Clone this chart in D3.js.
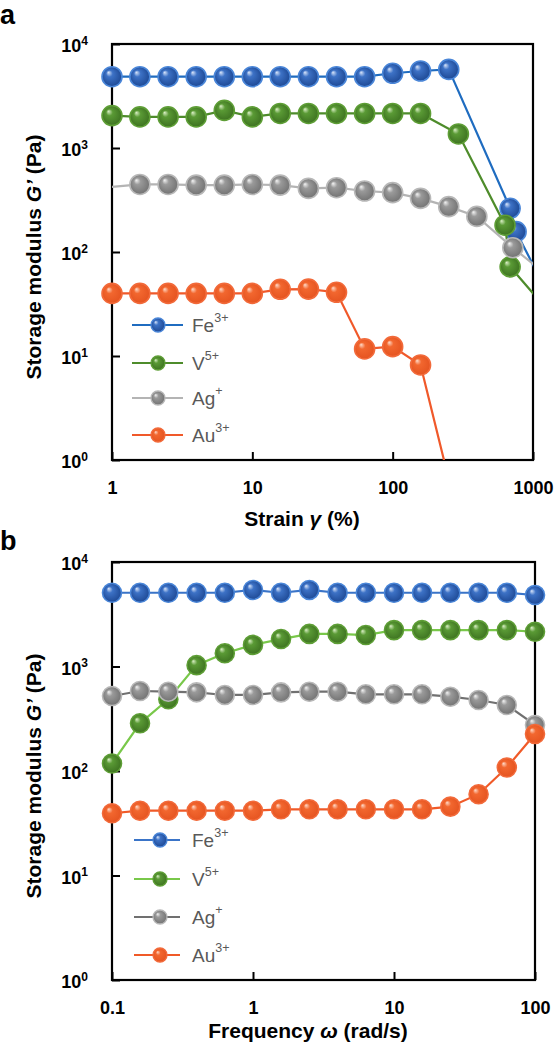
<!DOCTYPE html>
<html><head><meta charset="utf-8">
<script src="https://cdn.jsdelivr.net/npm/d3@7"></script>
<style>
body{margin:0;background:#fff}
svg{display:block}
text{font-family:Arial,"Liberation Sans",sans-serif}
</style>
</head><body>
<svg id="c" width="559" height="1050"></svg>
<script>
// ---------- DATA ----------
const seriesKeys = ["Fe","V","Ag","Au"];
const seriesCharges = ["3+","5+","+","3+"];

// Panel a: strain sweep (strain %, G' Pa)
const strainFeX = [1,1.58,2.51,3.98,6.31,10,15.8,25.1,39.8,63.1,100,158,251,687,758,1260];
const strainFeY = [4850,4850,4850,4850,4850,4850,4850,4850,4850,4850,5230,5500,5700,263,157,41];
const strainVX  = [1,1.58,2.51,3.98,6.31,10,15.8,25.1,39.8,63.1,100,158,294,632,687,1260];
const strainVY  = [2050,1990,1990,1990,2300,1990,2150,2150,2150,2150,2150,2150,1364,181,72,28];
const strainAgX = [0.631,1.58,2.51,3.98,6.31,10,15.8,25.1,39.8,63.1,100,158,251,398,718,1260];
const strainAgY = [400,446,446,440,440,446,440,409,415,386,372,328,273,220,110,60];
const strainAuX = [1,1.58,2.51,3.98,6.31,10,15.8,25.1,39.8,63.1,100,158,251];
const strainAuY = [40,40,40,40,40,40,43.8,44,41,11.7,12.3,8.2,0.65];

// Panel b: frequency sweep (rad/s, G' Pa)
const freqX   = [0.1,0.158,0.251,0.398,0.631,1,1.58,2.51,3.98,6.31,10,15.8,25.1,39.8,63.1,100];
const freqFeY = [5080,5080,5080,5080,5080,5400,5080,5400,5080,5080,5080,5080,5080,5080,5080,4830];
const freqVY  = [118,286,486,1030,1340,1610,1830,2050,2050,2000,2230,2230,2230,2230,2230,2150];
const freqAgY = [522,583,574,566,534,534,565,574,574,542,542,542,514,478,428,276];
const freqAuY = [39.4,41.7,41.7,41.7,41.7,41.7,43,43,43,43,43,43,45.6,60,108,226];

const strainTicks = [1,10,100,1000];
const strainTickLabels = ["1","10","100","1000"];
const freqTicks = [0.1,1,10,100];
const freqTickLabels = ["0.1","1","10","100"];
const gTicks = [1,10,100,1000,10000];
const gTickExp = ["0","1","2","3","4"];

// ---------- STYLE ----------
const markerStyle = {
  Fe:{stops:["#dbe7fb","#3d72c6","#1b4590"], stroke:"#4a86d8"},
  V: {stops:["#dcf0c8","#5a9a35","#3b6f1f"], stroke:"#5e9e36"},
  Ag:{stops:["#f4f4f4","#9a9a9a","#6f6f6f"], stroke:"#b8b8b8"},
  Au:{stops:["#ffdccb","#f2672f","#e4521f"], stroke:"#f26a3a"}
};
const lineColorsA = {Fe:"#1f6cc0", V:"#4e8c2b", Ag:"#b4b4b4", Au:"#f0592a"};
const lineColorsB = {Fe:"#3a74c8", V:"#79c84a", Ag:"#707070", Au:"#f05a28"};

const svg = d3.select("#c");
const defs = svg.append("defs");
seriesKeys.forEach(k=>{
  const g = defs.append("radialGradient").attr("id","grad-"+k)
    .attr("cx","0.5").attr("cy","0.5").attr("r","0.55").attr("fx","0.32").attr("fy","0.28");
  const s = markerStyle[k].stops;
  g.append("stop").attr("offset","0").attr("stop-color",s[0]);
  g.append("stop").attr("offset","0.3").attr("stop-color",s[1]);
  g.append("stop").attr("offset","1").attr("stop-color",s[2]);
});

function panel(cfg){
  const {left,right,top,bottom,xDomain,xTicks,xLabels,series,lineColors,r,legend,clipId} = cfg;
  const x = d3.scaleLog().domain(xDomain).range([left,right]);
  const y = d3.scaleLog().domain([1,10000]).range([bottom,top]);
  const g = svg.append("g");

  defs.append("clipPath").attr("id",clipId).append("rect")
    .attr("x",left).attr("y",top).attr("width",right-left).attr("height",bottom-top);

  // axes
  const ya = g.append("g").attr("transform",`translate(${left},0)`)
    .call(d3.axisLeft(y).tickValues(gTicks).tickSize(-8).tickPadding(24).tickFormat(()=>""));
  ya.select(".domain").remove();
  ya.selectAll(".tick line").attr("stroke","#000").attr("stroke-width",2);
  ya.selectAll(".tick text").each(function(d,i){
    const t = d3.select(this).attr("font-size",18).attr("font-weight","bold").attr("fill","#000").attr("dy","0.42em");
    t.append("tspan").text("10");
    t.append("tspan").attr("font-size",12).attr("dy","-0.62em").text(gTickExp[i]);
  });

  const xa = g.append("g").attr("transform",`translate(0,${bottom})`)
    .call(d3.axisBottom(x).tickValues(xTicks).tickSize(-8).tickPadding(21).tickFormat((d,i)=>xLabels[i]));
  xa.select(".domain").remove();
  xa.selectAll(".tick line").attr("stroke","#000").attr("stroke-width",2);
  xa.selectAll(".tick text").attr("font-size",18).attr("font-weight","bold").attr("fill","#000");

  g.append("rect").attr("x",left).attr("y",top).attr("width",right-left).attr("height",bottom-top)
    .attr("fill","none").attr("stroke","#000").attr("stroke-width",2.2);

  const line = d3.line().x(d=>x(d[0])).y(d=>y(d[1]));
  series.forEach(s=>{
    const pts = s.xs.map((v,i)=>[v,s.ys[i]]);
    g.append("path").datum(pts).attr("d",line).attr("fill","none")
      .attr("stroke",lineColors[s.key]).attr("stroke-width",2.2).attr("clip-path",`url(#${clipId})`);
    const inside = pts.filter(p=>p[0]>=xDomain[0]*0.999 && p[0]<=xDomain[1]*1.001 && p[1]>=1);
    g.selectAll(null).data(inside).enter().append("circle")
      .attr("cx",d=>x(d[0])).attr("cy",d=>y(d[1])).attr("r",r)
      .attr("fill",`url(#grad-${s.key})`).attr("stroke",markerStyle[s.key].stroke).attr("stroke-width",1.6);
  });

  // legend
  seriesKeys.forEach((k,i)=>{
    const yy = legend.rows[i];
    g.append("line").attr("x1",legend.x1).attr("x2",legend.x2).attr("y1",yy).attr("y2",yy)
      .attr("stroke",lineColors[k]).attr("stroke-width",2.2);
    g.append("circle").attr("cx",legend.mx).attr("cy",yy).attr("r",7)
      .attr("fill",`url(#grad-${k})`).attr("stroke",markerStyle[k].stroke).attr("stroke-width",1.3);
    const t = g.append("text").attr("x",legend.tx).attr("y",yy).attr("dy","0.36em")
      .attr("font-size",19).attr("fill","#595959");
    t.append("tspan").text(k);
    t.append("tspan").attr("font-size",12.5).attr("dy","-0.75em").text(seriesCharges[i]);
  });
  return {x,y};
}

panel({
  left:112,right:533,top:44,bottom:460,xDomain:[1,1000],
  xTicks:strainTicks,xLabels:strainTickLabels,r:10,clipId:"clipA",
  lineColors:lineColorsA,
  series:[
    {key:"Fe",xs:strainFeX,ys:strainFeY},
    {key:"V",xs:strainVX,ys:strainVY},
    {key:"Ag",xs:strainAgX,ys:strainAgY},
    {key:"Au",xs:strainAuX,ys:strainAuY}
  ],
  legend:{x1:132,x2:183,mx:158,tx:192,rows:[325,363,398,435]}
});

panel({
  left:112,right:535,top:562,bottom:980,xDomain:[0.1,100],
  xTicks:freqTicks,xLabels:freqTickLabels,r:9.5,clipId:"clipB",
  lineColors:lineColorsB,
  series:[
    {key:"Fe",xs:freqX,ys:freqFeY},
    {key:"V",xs:freqX,ys:freqVY},
    {key:"Ag",xs:freqX,ys:freqAgY},
    {key:"Au",xs:freqX,ys:freqAuY}
  ],
  legend:{x1:134,x2:180,mx:160,tx:192,rows:[840,879,917,955]}
});

// axis titles
function yTitle(cy){
  const t = svg.append("text").attr("transform",`translate(41,${cy}) rotate(-90)`)
    .attr("text-anchor","middle").attr("font-size",21).attr("font-weight","bold").attr("fill","#000");
  t.append("tspan").text("Storage modulus ");
  t.append("tspan").attr("font-style","italic").text("G’");
  t.append("tspan").text(" (Pa)");
}
yTitle(257);
yTitle(776);

const xt1 = svg.append("text").attr("x",302).attr("y",526).attr("text-anchor","middle")
  .attr("font-size",21).attr("font-weight","bold").attr("fill","#000");
xt1.append("tspan").text("Strain ");
xt1.append("tspan").attr("font-style","italic").text("γ");
xt1.append("tspan").text("  (%)");

const xt2 = svg.append("text").attr("x",308).attr("y",1038).attr("text-anchor","middle")
  .attr("font-size",21).attr("font-weight","bold").attr("fill","#000");
xt2.append("tspan").text("Frequency ");
xt2.append("tspan").attr("font-style","italic").text("ω");
xt2.append("tspan").text(" (rad/s)");

svg.append("text").attr("x",0).attr("y",24).attr("font-size",27).attr("font-weight","bold").text("a");
svg.append("text").attr("x",0).attr("y",550).attr("font-size",27).attr("font-weight","bold").text("b");
</script>
</body></html>
